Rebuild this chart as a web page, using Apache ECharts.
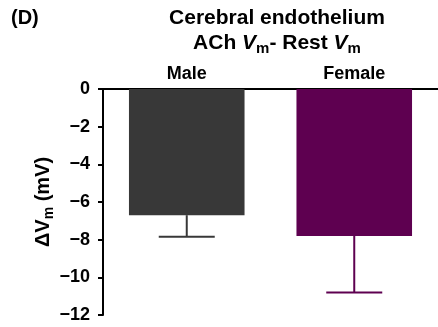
<!DOCTYPE html>
<html>
<head>
<meta charset="utf-8">
<script src="https://cdn.jsdelivr.net/npm/echarts@6/dist/echarts.min.js"></script>
<style>
 html, body { margin: 0; padding: 0; background: #fff; }
 #chart1 { width: 438px; height: 327px; }
</style>
</head>
<body>
<div id="chart1"></div>
<script>
// values
var categories = ['Male', 'Female'];
var means = [-6.7, -7.8];
var errors = [1.15, 3.0];
var barColors = ['#383838', '#5e0050'];
var yTicks = [0, -2, -4, -6, -8, -10, -12];

var dom = document.getElementById("chart1");
var myChart = echarts.init(dom);
var font = 'Arial, "Liberation Sans", Helvetica, sans-serif';

var barData = means.map(function (v, i) {
 return { value: v, itemStyle: { color: barColors[i] } };
});
var errData = means.map(function (v, i) {
 return [i, v, v - errors[i]];
});

option = {
 animation: false,
 backgroundColor: '#fff',
 textStyle: { fontFamily: font },
 graphic: [
	 {
		 type: 'text', left: 11, top: 8,
		 style: { text: '(D)', fill: '#000', font: 'bold 20px ' + font }
	 },
	 {
		 type: 'text', x: 277, y: 18,
		 style: {
			 text: 'Cerebral endothelium', fill: '#000',
			 font: 'bold 21px ' + font, textAlign: 'center', textVerticalAlign: 'middle'
		 }
	 },
	 {
		 type: 'text', x: 277, y: 43,
		 style: {
			 text: '{t|ACh }{i|V}{s|m}{t|- Rest }{i|V}{s|m}', fill: '#000',
			 textAlign: 'center', textVerticalAlign: 'middle',
			 rich: {
				 t: { font: 'bold 21px ' + font, lineHeight: 26, verticalAlign: 'middle' },
				 i: { font: 'italic bold 21px ' + font, lineHeight: 26, verticalAlign: 'middle' },
				 s: { font: 'bold 15px ' + font, lineHeight: 12, verticalAlign: 'bottom' }
			 }
		 }
	 }
 ],
 grid: {
	 left: 103,
	 right: -5,
	 top: 89,
	 bottom: 12,
	 containLabel: false
 },
 xAxis: {
	 type: 'category',
	 position: 'top',
	 data: categories,
	 axisLine: { lineStyle: { color: '#000', width: 2 } },
	 axisTick: { alignWithLabel: true, length: 5, lineStyle: { color: '#000', width: 2 } },
	 axisLabel: { color: '#000', fontWeight: 'bold', fontSize: 18, margin: 6 }
 },
 yAxis: {
	 type: 'value',
	 min: -12,
	 max: 0,
	 interval: 2,
	 name: '{d|ΔV}{s|m}{d| (mV)}',
	 nameLocation: 'middle',
	 nameRotate: 90,
	 nameGap: 47,
	 nameMoveOverlap: false,
	 nameTextStyle: {
		 color: '#000',
		 rich: {
			 d: { fontWeight: 'bold', fontSize: 20, lineHeight: 26, verticalAlign: 'middle', color: '#000' },
			 s: { fontWeight: 'bold', fontSize: 14, lineHeight: 12, verticalAlign: 'bottom', color: '#000' }
		 }
	 },
	 axisLine: { show: true, lineStyle: { color: '#000', width: 2 } },
	 axisTick: { show: true, length: 5, lineStyle: { color: '#000', width: 2 } },
	 splitLine: { show: false },
	 axisLabel: {
		 color: '#000', fontWeight: 'bold', fontSize: 18, margin: 13,
		 formatter: function (a) {
			 return yTicks.indexOf(a) >= 0 ? String(a).replace('-', '\u2212') : '';
		 }
	 }
 },
 series: [
	 {
		 name: 'mean',
		 type: 'bar',
		 barWidth: '69%',
		 data: barData
	 },
	 {
		 name: 'sem',
		 type: 'custom',
		 z: 3,
		 data: errData,
		 renderItem: function (params, api) {
			 var i = api.value(0);
			 var top = api.coord([i, api.value(1)]);
			 var low = api.coord([i, api.value(2)]);
			 var half = 28;
			 var style = { stroke: barColors[i], lineWidth: 2 };
			 return {
				 type: 'group',
				 children: [
					 { type: 'line', shape: { x1: top[0], y1: top[1], x2: low[0], y2: low[1] }, style: style },
					 { type: 'line', shape: { x1: low[0] - half, y1: low[1], x2: low[0] + half, y2: low[1] }, style: style }
				 ]
			 };
		 }
	 }
 ]
};

myChart.setOption(option);
</script>
</body>
</html>
